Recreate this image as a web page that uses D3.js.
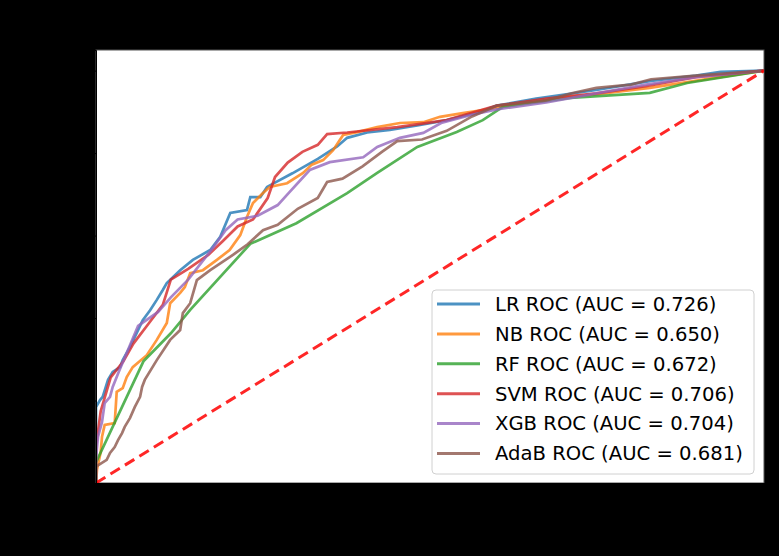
<!DOCTYPE html>
<html>
<head>
<meta charset="utf-8">
<script src="https://cdn.jsdelivr.net/npm/d3@7"></script>
<style>
  body { margin: 0; background: #000; }
  svg { display: block; }
</style>
</head>
<body>
<svg id="roc" width="779" height="556"></svg>
<script>
// ROC points: [false positive rate, true positive rate]
const lrRoc = [[0,0],[0,.184],[.006,.201],[.01,.209],[.018,.25],[.025,.269],[.036,.281],[.04,.298],[.051,.33],[.061,.364],[.07,.395],[.081,.419],[.091,.444],[.1,.468],[.106,.485],[.126,.516],[.145,.541],[.171,.565],[.186,.597],[.201,.655],[.226,.662],[.231,.693],[.246,.693],[.256,.718],[.294,.751],[.332,.786],[.361,.816],[.376,.837],[.406,.85],[.44,.856],[.481,.867],[.525,.88],[.57,.898],[.6,.915],[.659,.932],[.749,.953],[.831,.975],[.898,.988],[.935,.997],[1,1]];
const nbRoc = [[0,0],[.0015,.032],[.007,.075],[.009,.112],[.013,.141],[.028,.145],[.031,.221],[.04,.23],[.046,.257],[.055,.281],[.076,.31],[.091,.347],[.106,.388],[.111,.436],[.126,.461],[.133,.475],[.141,.509],[.16,.516],[.181,.541],[.2,.565],[.216,.601],[.226,.645],[.235,.679],[.25,.703],[.26,.718],[.286,.727],[.31,.752],[.323,.772],[.34,.783],[.355,.807],[.365,.832],[.37,.844],[.391,.851],[.421,.863],[.455,.873],[.49,.875],[.515,.888],[.549,.897],[.579,.904],[.62,.915],[.695,.934],[.76,.945],[.829,.958],[.904,.977],[1,1]];
const rfRoc = [[0,0],[0,.05],[.071,.295],[.112,.363],[.141,.42],[.231,.58],[.30,.63],[.376,.703],[.421,.752],[.481,.815],[.54,.851],[.579,.88],[.609,.912],[.71,.934],[.829,.946],[.885,.97],[1,1]];
const svmRoc = [[0,0],[0,.088],[.007,.174],[.022,.256],[.041,.295],[.056,.338],[.078,.385],[.1,.432],[.112,.493],[.138,.519],[.168,.553],[.19,.587],[.212,.622],[.235,.639],[.257,.691],[.268,.742],[.287,.777],[.309,.803],[.332,.82],[.346,.846],[.376,.85],[.451,.863],[.525,.88],[.6,.915],[.674,.932],[.749,.945],[.823,.962],[.898,.984],[1,1]];
const xgbRoc = [[0,0],[0,.06],[.003,.112],[.009,.148],[.013,.194],[.021,.209],[.025,.233],[.034,.269],[.063,.381],[.093,.415],[.112,.45],[.138,.493],[.175,.57],[.194,.613],[.212,.639],[.242,.648],[.272,.674],[.29,.706],[.32,.759],[.35,.778],[.4,.79],[.421,.815],[.455,.837],[.49,.849],[.518,.874],[.563,.893],[.6,.906],[.674,.923],[.749,.945],[.823,.966],[.898,.984],[1,1]];
const adabRoc = [[0,0],[0,.04],[.016,.056],[.021,.073],[.028,.087],[.033,.104],[.039,.121],[.043,.136],[.051,.158],[.058,.184],[.066,.209],[.069,.233],[.073,.25],[.091,.298],[.111,.347],[.126,.371],[.13,.412],[.141,.436],[.151,.492],[.171,.516],[.205,.553],[.227,.579],[.25,.613],[.272,.626],[.302,.665],[.332,.691],[.346,.73],[.369,.738],[.399,.768],[.428,.803],[.451,.829],[.488,.833],[.525,.854],[.563,.889],[.6,.915],[.674,.928],[.712,.945],[.749,.958],[.801,.966],[.831,.979],[.898,.988],[1,1]];

const labels = ["LR ROC (AUC = 0.726)", "NB ROC (AUC = 0.650)", "RF ROC (AUC = 0.672)",
                "SVM ROC (AUC = 0.706)", "XGB ROC (AUC = 0.704)", "AdaB ROC (AUC = 0.681)"];
const colors = ["#1f77b4", "#ff7f0e", "#2ca02c", "#d62728", "#9467bd", "#8c564b"];
const curves = [lrRoc, nbRoc, rfRoc, svmRoc, xgbRoc, adabRoc];

const svg = d3.select("#roc");
const width = +svg.attr("width");
const height = +svg.attr("height");
const margin = { top: 50, right: 15, bottom: 73, left: 96 };

svg.append("rect").attr("width", width).attr("height", height).attr("fill", "#000");

const x = d3.scaleLinear().domain([0, 1]).range([margin.left, width - margin.right]);
const y = d3.scaleLinear().domain([0, 1.05]).range([height - margin.bottom, margin.top]);

svg.append("rect")
  .attr("x", x(0)).attr("y", y(1.05))
  .attr("width", x(1) - x(0)).attr("height", y(0) - y(1.05))
  .attr("fill", "#fff")
  .attr("stroke", "#555")
  .attr("stroke-width", 1);

svg.append("clipPath").attr("id", "plot-clip")
  .append("rect")
  .attr("x", x(0)).attr("y", y(1.05))
  .attr("width", x(1) - x(0)).attr("height", y(0) - y(1.05));

const line = d3.line()
  .x(d => x(d[0]))
  .y(d => y(d[1]));

const plot = svg.append("g").attr("clip-path", "url(#plot-clip)");

curves.forEach((c, i) => {
  plot.append("path")
    .datum(c)
    .attr("fill", "none")
    .attr("stroke", colors[i])
    .attr("stroke-opacity", 0.8)
    .attr("stroke-width", 2.7)
    .attr("d", line);
});

// chance line
plot.append("path")
  .datum([[0, 0], [1, 1]])
  .attr("fill", "none")
  .attr("stroke", "red")
  .attr("stroke-opacity", 0.85)
  .attr("stroke-width", 3)
  .attr("stroke-dasharray", "11,6")
  .attr("d", line);

// axes (black on the black figure background, as in the original)
svg.append("g")
  .attr("transform", `translate(0,${y(0)})`)
  .call(d3.axisBottom(x).ticks(5))
  .call(g => g.selectAll("line,path").attr("stroke", "#000"))
  .call(g => g.selectAll("text").attr("fill", "#000"));
svg.append("g")
  .attr("transform", `translate(${x(0)},0)`)
  .call(d3.axisLeft(y).ticks(5))
  .call(g => g.selectAll("line,path").attr("stroke", "#000"))
  .call(g => g.selectAll("text").attr("fill", "#000"));

// legend
const legend = svg.append("g").attr("transform", "translate(432,290)");
legend.append("rect")
  .attr("width", 322).attr("height", 184)
  .attr("rx", 4)
  .attr("fill", "#fff").attr("fill-opacity", 0.8)
  .attr("stroke", "#d0d0d0");

labels.forEach((lab, i) => {
  const row = legend.append("g").attr("transform", `translate(0,${14 + i * 29.9})`);
  row.append("line")
    .attr("x1", 5).attr("x2", 48)
    .attr("stroke", colors[i]).attr("stroke-opacity", 0.8)
    .attr("stroke-width", 3);
  row.append("text")
    .attr("x", 63).attr("dy", "0.35em")
    .attr("font-family", "DejaVu Sans")
    .attr("font-size", 19.6)
    .attr("fill", "#000")
    .text(lab);
});
</script>
</body>
</html>
